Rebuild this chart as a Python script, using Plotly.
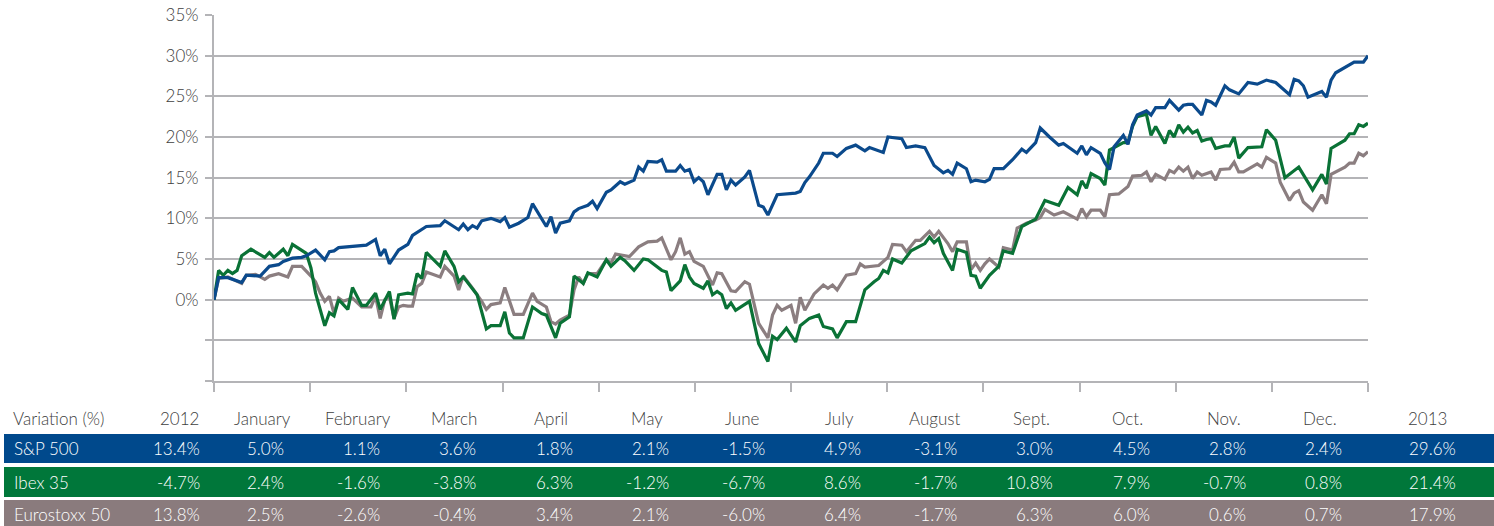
import plotly.graph_objects as go

# ---------------- data (cumulative % change during 2013, x = trading day index) ----------------
TRADING_DAYS = 250

sp_days = [0, 1, 3, 6, 7, 10, 12, 14, 15, 17, 19, 20, 22, 24, 25, 26, 27, 33, 35, 36, 37, 38, 40, 41, 42,
           43, 45, 46, 49, 50, 53, 54, 55, 56, 57, 58, 60, 62, 63, 64, 66, 68, 69, 72, 73, 74, 75, 77, 78,
           79, 81, 82, 83, 85, 86, 88, 89, 90, 91, 92, 93, 94, 96, 97, 98, 100, 101, 102, 103, 104, 105,
           106, 107, 109, 110, 111, 112, 113, 115, 116, 118, 119, 120, 122, 126, 127, 128, 129, 131, 132,
           134, 135, 137, 139, 141, 142, 145, 146, 149, 150, 152, 154, 156, 158, 159, 160, 161, 163, 164,
           165, 167, 168, 169, 171, 173, 175, 176, 178, 179, 181, 183, 184, 187, 188, 189, 190, 192, 193,
           194, 195, 197, 198, 199, 200, 202, 203, 204, 206, 207, 209, 210, 211, 212, 214, 215, 216, 217,
           219, 220, 222, 224, 226, 228, 230, 233, 234, 235, 236, 237, 240, 241, 242, 243, 247, 249, 250]
sp_vals = [0.0, 2.7, 2.7, 2.1, 3.0, 2.9, 4.1, 4.3, 4.7, 5.1, 5.2, 5.4, 6.1, 4.9, 5.9, 6.0, 6.4, 6.7, 7.4, 5.4, 6.2, 4.4, 6.1, 6.5, 6.8,
           7.9, 8.6, 9.0, 9.1, 9.7, 8.6, 9.3, 8.6, 9.1, 8.8, 9.7, 10.0, 9.6, 10.1, 8.9, 9.4, 10.1, 11.8, 9.0, 10.2, 8.2, 9.4, 9.7, 10.8,
           11.2, 11.6, 12.1, 11.2, 13.2, 13.5, 14.5, 14.2, 14.5, 14.7, 16.3, 15.8, 17.0, 16.9, 17.2, 15.8, 15.8, 16.5, 15.8, 16.0, 14.5, 15.0,
           14.5, 12.9, 15.4, 15.4, 13.5, 14.7, 14.1, 15.1, 15.9, 11.6, 11.4, 10.4, 12.9, 13.1, 13.3, 14.4, 15.1, 16.8, 18.0,
           18.0, 17.6, 18.6, 19.0, 18.3, 18.7, 18.1, 20.0, 19.8, 18.7, 18.9, 18.7, 16.5, 15.6, 15.9, 15.4, 16.8, 16.1, 14.5,
           14.7, 14.5, 14.8, 16.1, 16.1, 17.2, 18.5, 18.1, 19.3, 21.1, 20.0, 19.0, 19.2, 18.0, 18.9, 17.8, 18.7, 18.0, 16.8,
           16.0, 18.8, 20.2, 19.1, 21.5, 22.7, 23.2, 22.7, 23.6, 23.6, 24.5, 23.3, 23.9, 24.0, 24.0, 22.7, 24.5, 24.3, 23.9,
           26.3, 25.8, 25.3, 26.7, 26.5, 27.0, 26.7, 25.2, 27.1, 26.9, 26.3, 24.9, 25.6, 24.9, 27.0, 27.9, 29.2, 29.2, 30.0]

ibex_days = [0, 1, 2, 3, 4, 5, 6, 8, 11, 12, 13, 15, 16, 17, 20, 21, 22, 24, 25, 26, 27, 29, 30, 32, 33, 35, 36,
             37, 38, 39, 40, 42, 43, 44, 45, 46, 49, 50, 52, 53, 54, 57, 59, 60, 62, 63, 64, 65, 67, 69, 71, 72,
             74, 75, 77, 78, 80, 81, 83, 85, 86, 88, 89, 91, 93, 94, 97, 98, 99, 101, 102, 103, 104, 106, 107, 108,
             109, 110, 111, 112, 113, 116, 118, 120, 121, 122, 124, 126, 127, 129, 131, 132, 134, 135, 137, 139,
             141, 143, 144, 145, 146, 147, 149, 151, 154, 155, 156, 157, 158, 160, 161, 163, 164, 165, 166, 168,
             170, 171, 173, 175, 178, 180, 183, 185, 187, 188, 189, 190, 192, 193, 194, 197, 198, 199, 200, 202,
             203, 204, 205, 206, 207, 208, 209, 210, 211, 212, 213, 214, 215, 216, 217, 219, 220, 221, 222, 224,
             227, 228, 230, 231, 232, 235, 238, 240, 241, 242, 245, 246, 247, 248, 249, 250]
ibex_vals = [0.0, 3.6, 3.0, 3.6, 3.2, 3.6, 5.4, 6.2, 5.2, 5.8, 5.2, 6.2, 5.4, 6.8, 5.7, 3.9, 0.8, -3.2, -1.6, -2.0, 0.0, -1.2, 1.5, -0.7, -0.7, 0.8, -1.2,
             0.0, 1.0, -2.4, 0.6, 0.8, 0.7, 3.2, 2.6, 5.8, 4.1, 6.0, 4.1, 2.2, 2.8, 0.6, -3.6, -3.2, -3.2, -1.5, -4.1, -4.7, -4.7, -0.9, -1.7, -1.9,
             -4.7, -2.9, -2.1, 2.9, 2.0, 3.3, 2.8, 4.9, 4.1, 5.2, 4.8, 3.6, 5.0, 4.9, 3.6, 3.4, 1.1, 2.3, 4.3, 2.8, 2.0, 1.4, 2.3, 0.6,
             1.0, 0.6, -1.1, -0.4, -1.3, -0.2, -5.4, -7.6, -4.5, -4.9, -3.5, -5.2, -3.2, -2.3, -1.9, -3.3, -3.6, -4.7, -2.7, -2.7,
             1.2, 2.2, 2.6, 3.6, 3.3, 5.0, 4.5, 6.0, 6.9, 7.7, 7.0, 7.5, 5.7, 3.6, 6.2, 5.8, 3.0, 2.9, 1.4, 3.0,
             4.1, 6.0, 5.7, 9.0, 9.9, 12.2, 11.6, 13.8, 12.9, 14.6, 13.7, 15.5, 14.9, 14.1, 18.4, 19.3, 19.3, 21.3, 22.5, 22.8,
             20.2, 21.3, 20.2, 19.2, 20.8, 20.0, 21.5, 20.6, 21.2, 20.5, 20.8, 19.5, 19.7, 19.8, 18.6, 18.9, 18.9, 20.0, 17.4, 18.7,
             18.8, 20.9, 19.6, 17.4, 15.0, 16.3, 13.5, 15.4, 14.2, 18.6, 19.6, 20.4, 20.4, 21.5, 21.3, 21.7]

euro_days = [0, 1, 3, 6, 7, 9, 11, 12, 14, 16, 17, 19, 21, 22, 23, 24, 25, 26, 27, 28, 30, 31, 32, 34, 35, 36, 37,
             38, 39, 40, 41, 42, 43, 44, 45, 46, 49, 50, 52, 53, 54, 56, 58, 59, 60, 62, 63, 65, 67, 69, 70, 72,
             73, 74, 75, 77, 78, 79, 80, 81, 83, 85, 86, 87, 90, 92, 94, 96, 97, 99, 100, 101, 102, 103, 104, 105,
             106, 108, 109, 110, 112, 113, 115, 116, 118, 120, 121, 122, 123, 125, 126, 127, 128, 130, 132, 133,
             134, 135, 137, 139, 140, 141, 144, 146, 147, 149, 150, 152, 153, 155, 156, 157, 159, 160, 161, 163,
             164, 165, 166, 167, 168, 169, 170, 171, 173, 174, 176, 178, 179, 180, 182, 184, 187, 188, 189, 190,
             192, 193, 194, 196, 198, 199, 201, 202, 203, 204, 206, 207, 208, 209, 210, 211, 212, 213, 214, 216,
             217, 218, 220, 221, 222, 223, 226, 227, 228, 230, 231, 233, 234, 235, 236, 238, 240, 241, 242, 245,
             246, 247, 248, 249, 250]
euro_vals = [0.0, 2.6, 2.8, 2.0, 3.0, 3.1, 2.5, 2.9, 3.2, 2.8, 4.1, 4.1, 2.9, 2.2, 0.8, -0.2, 0.4, -1.7, 0.2, -0.2, 0.2, -0.4, -0.9, -0.9, 0.4, -2.3, 0.0,
             0.4, -2.3, -0.9, -0.7, -0.8, -0.8, 1.6, 2.0, 3.4, 2.8, 4.1, 2.9, 1.2, 2.9, 1.4, -0.2, -1.2, -0.6, -0.4, 1.5, -1.8, -1.8, 0.8, -0.2, -0.9,
             -2.7, -3.0, -2.5, -1.9, 1.2, 2.8, 2.0, 3.2, 3.2, 4.9, 4.5, 5.6, 5.3, 6.5, 7.1, 7.2, 7.6, 4.9, 5.9, 7.6, 5.6, 5.9, 4.7, 4.4,
             4.1, 1.8, 3.3, 3.2, 1.1, 1.0, 2.2, 1.9, -2.9, -4.7, -1.9, -0.7, -1.3, -0.7, -2.9, 0.3, -1.3, 0.7, 1.8, 1.4,
             1.8, 1.2, 3.0, 3.2, 4.4, 4.0, 4.2, 5.2, 6.8, 6.7, 5.9, 7.3, 7.3, 8.4, 7.7, 8.4, 6.9, 5.9, 7.1, 7.1,
             3.7, 4.5, 3.6, 4.4, 5.0, 4.5, 4.0, 6.4, 6.1, 8.8, 9.4, 9.8, 10.1, 11.1, 10.4, 10.8, 9.9, 11.2, 10.2, 11.0,
             11.0, 10.2, 12.9, 13.0, 13.9, 15.2, 15.3, 15.7, 14.5, 15.4, 14.8, 15.9, 15.6, 16.3, 15.8, 16.3, 14.9, 15.7, 15.3, 15.7,
             14.7, 16.0, 16.1, 16.9, 15.7, 15.7, 16.7, 16.3, 17.5, 16.8, 14.4, 12.2, 13.1, 13.4, 12.0, 11.0, 12.9, 11.8, 15.4, 16.3,
             16.8, 16.8, 18.0, 17.7, 18.2]

# ---------------- table data ----------------
row_header = "Variation (%)"
col_labels = ["2012", "January", "February", "March", "April", "May", "June", "July",
              "August", "Sept.", "Oct.", "Nov.", "Dec.", "2013"]
series_names = ["S&P 500", "Ibex 35", "Eurostoxx 50"]
sp_table = [13.4, 5.0, 1.1, 3.6, 1.8, 2.1, -1.5, 4.9, -3.1, 3.0, 4.5, 2.8, 2.4, 29.6]
ibex_table = [-4.7, 2.4, -1.6, -3.8, 6.3, -1.2, -6.7, 8.6, -1.7, 10.8, 7.9, -0.7, 0.8, 21.4]
euro_table = [13.8, 2.5, -2.6, -0.4, 3.4, 2.1, -6.0, 6.4, -1.7, 6.3, 6.0, 0.6, 0.7, 17.9]

y_tick_vals = [-10, -5, 0, 5, 10, 15, 20, 25, 30, 35]
y_tick_text = ["", "", "0%", "5%", "10%", "15%", "20%", "25%", "30%", "35%"]

# ---------------- style ----------------
BLUE = "#0B4A8C"
GREEN = "#0A7236"
GRAY = "#8B7E80"
BAND_BLUE = "#00498C"
BAND_GREEN = "#00773A"
BAND_GRAY = "#8A7B7D"
GRID = "#B4B4B7"
TEXT = "#404040"
FONT = "Lato, 'Open Sans', sans-serif"
FSIZE = 17
FWEIGHT = 300

W, H = 1494, 526
ML, MR, MT, MB = 214, 126, 15, 145
PW, PH = W - ML - MR, H - MT - MB


def pxx(px):
    return (px - ML) / PW


def pxy(py):
    return (H - MB - py) / PH


fig = go.Figure()
for name, days, vals, col in [("Eurostoxx 50", euro_days, euro_vals, GRAY),
                              ("Ibex 35", ibex_days, ibex_vals, GREEN),
                              ("S&P 500", sp_days, sp_vals, BLUE)]:
    fig.add_trace(go.Scatter(x=days, y=vals, mode="lines", name=name,
                             line=dict(color=col, width=3.2), hoverinfo="skip"))

month_len = TRADING_DAYS / 12
month_ticks = [i * month_len for i in range(13)]

fig.update_layout(
    width=W, height=H,
    margin=dict(l=ML, r=MR, t=MT, b=MB, autoexpand=False),
    paper_bgcolor="white", plot_bgcolor="white",
    showlegend=False,
    font=dict(family=FONT, color=TEXT, size=FSIZE, weight=FWEIGHT),
    xaxis=dict(range=[0, TRADING_DAYS], tickmode="array", tickvals=month_ticks,
               showticklabels=False, ticks="outside", ticklen=9, tickwidth=2, tickcolor=GRID,
               showgrid=False, zeroline=False, showline=True, linecolor=GRID, linewidth=2),
    yaxis=dict(range=[-10, 35], tickmode="array", tickvals=y_tick_vals, ticktext=y_tick_text,
               ticks="outside", ticklen=7, tickwidth=2, tickcolor=GRID,
               showgrid=True, gridcolor=GRID, gridwidth=2, zeroline=False,
               showline=True, linecolor=GRID, linewidth=2, ticklabelstandoff=3,
               tickfont=dict(size=FSIZE, color=TEXT, family=FONT, weight=FWEIGHT)),
)

# ---------------- table below the chart ----------------
bands = [(434, 463, BAND_BLUE), (467, 497, BAND_GREEN), (500, 530, BAND_GRAY)]
shapes = []
for top, bot, colr in bands:
    shapes.append(dict(type="rect", xref="paper", yref="paper",
                       x0=pxx(4), x1=pxx(W + 2), y0=pxy(bot), y1=pxy(top),
                       fillcolor=colr, line=dict(width=0), layer="below"))
fig.update_layout(shapes=shapes)

# column centres in month units (2012 column left of January, 2013 right of December)
col_pos_months = [-0.354] + [i + 0.5 for i in range(12)] + [12.62]
col_pos_paper = [m / 12 for m in col_pos_months]
val_shift = [22] + [24] * 12 + [30]

annotations = []
header_y = pxy(418)
annotations.append(dict(text=row_header, xref="paper", yref="paper", x=pxx(11), y=header_y,
                        xanchor="left", yanchor="middle", showarrow=False,
                        font=dict(size=FSIZE, color=TEXT, weight=FWEIGHT)))
for lab, xp in zip(col_labels, col_pos_paper):
    annotations.append(dict(text=lab, xref="paper", yref="paper", x=xp, y=header_y,
                            xanchor="center", yanchor="middle", showarrow=False,
                            font=dict(size=FSIZE, color=TEXT, weight=FWEIGHT)))

row_centres = [448.5, 482, 514]
for name, vals, yc in zip(series_names, [sp_table, ibex_table, euro_table], row_centres):
    annotations.append(dict(text=name, xref="paper", yref="paper", x=pxx(12), y=pxy(yc),
                            xanchor="left", yanchor="middle", showarrow=False,
                            font=dict(size=FSIZE, color="white", weight=FWEIGHT)))
    for v, xp, sh in zip(vals, col_pos_paper, val_shift):
        annotations.append(dict(text=f"{v:.1f}%", xref="paper", yref="paper", x=xp, y=pxy(yc),
                                xanchor="right", yanchor="middle", xshift=sh, showarrow=False,
                                font=dict(size=FSIZE, color="white", weight=FWEIGHT)))
fig.update_layout(annotations=annotations)

fig.write_html("out.html", config={"displayModeBar": False},
               post_script="document.body.style.margin='0';")
